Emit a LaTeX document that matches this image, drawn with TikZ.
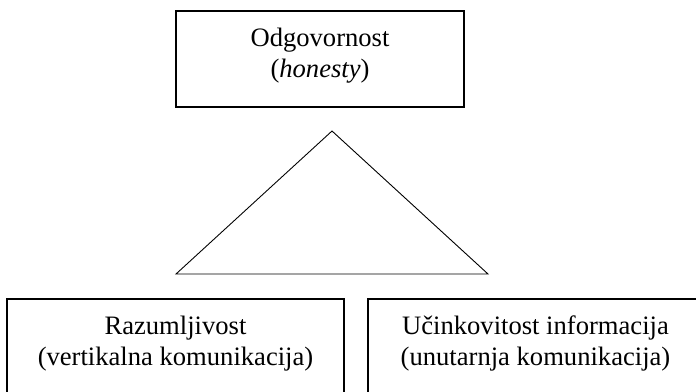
\documentclass[tikz,border=0pt]{standalone}
\usepackage{fontspec}
\setmainfont{Liberation Serif}
\begin{document}
\begin{tikzpicture}[x=1pt,y=-1pt,
  boxstyle/.style={draw=black,line width=1.2pt,rectangle,inner sep=0pt,outer sep=0pt},
  txt/.style={align=center,anchor=base,inner sep=0pt,font=\fontsize{26.6}{31}\selectfont},
  tri/.style={draw=black,line width=0.9pt,line join=miter}]
\useasboundingbox (0,0) rectangle (696,391);
\clip (0,0) rectangle (696,391);
\fill[white] (0,0) rectangle (696,391);
% top box
\node[boxstyle,minimum width=288pt,minimum height=96pt] (top) at (320,59) {};
\node[txt] (toptxt) at (320,77) {Odgovornost\\(\textit{honesty})};
% triangle
\coordinate (apex) at (332,131);
\coordinate (bl) at (176,274);
\coordinate (br) at (488,274);
\draw[tri] (apex) -- (bl) -- (br) -- cycle;
% bottom boxes
\node[boxstyle,minimum width=337pt,minimum height=141pt] (left) at (175.5,369.5) {};
\node[txt] (lefttxt) at (175.5,365.5) {Razumljivost\\(vertikalna komunikacija)};
\node[boxstyle,minimum width=335pt,minimum height=141pt] (right) at (535.5,369.5) {};
\node[txt] (righttxt) at (535.5,365.5) {Učinkovitost informacija\\(unutarnja komunikacija)};
\end{tikzpicture}
\end{document}
